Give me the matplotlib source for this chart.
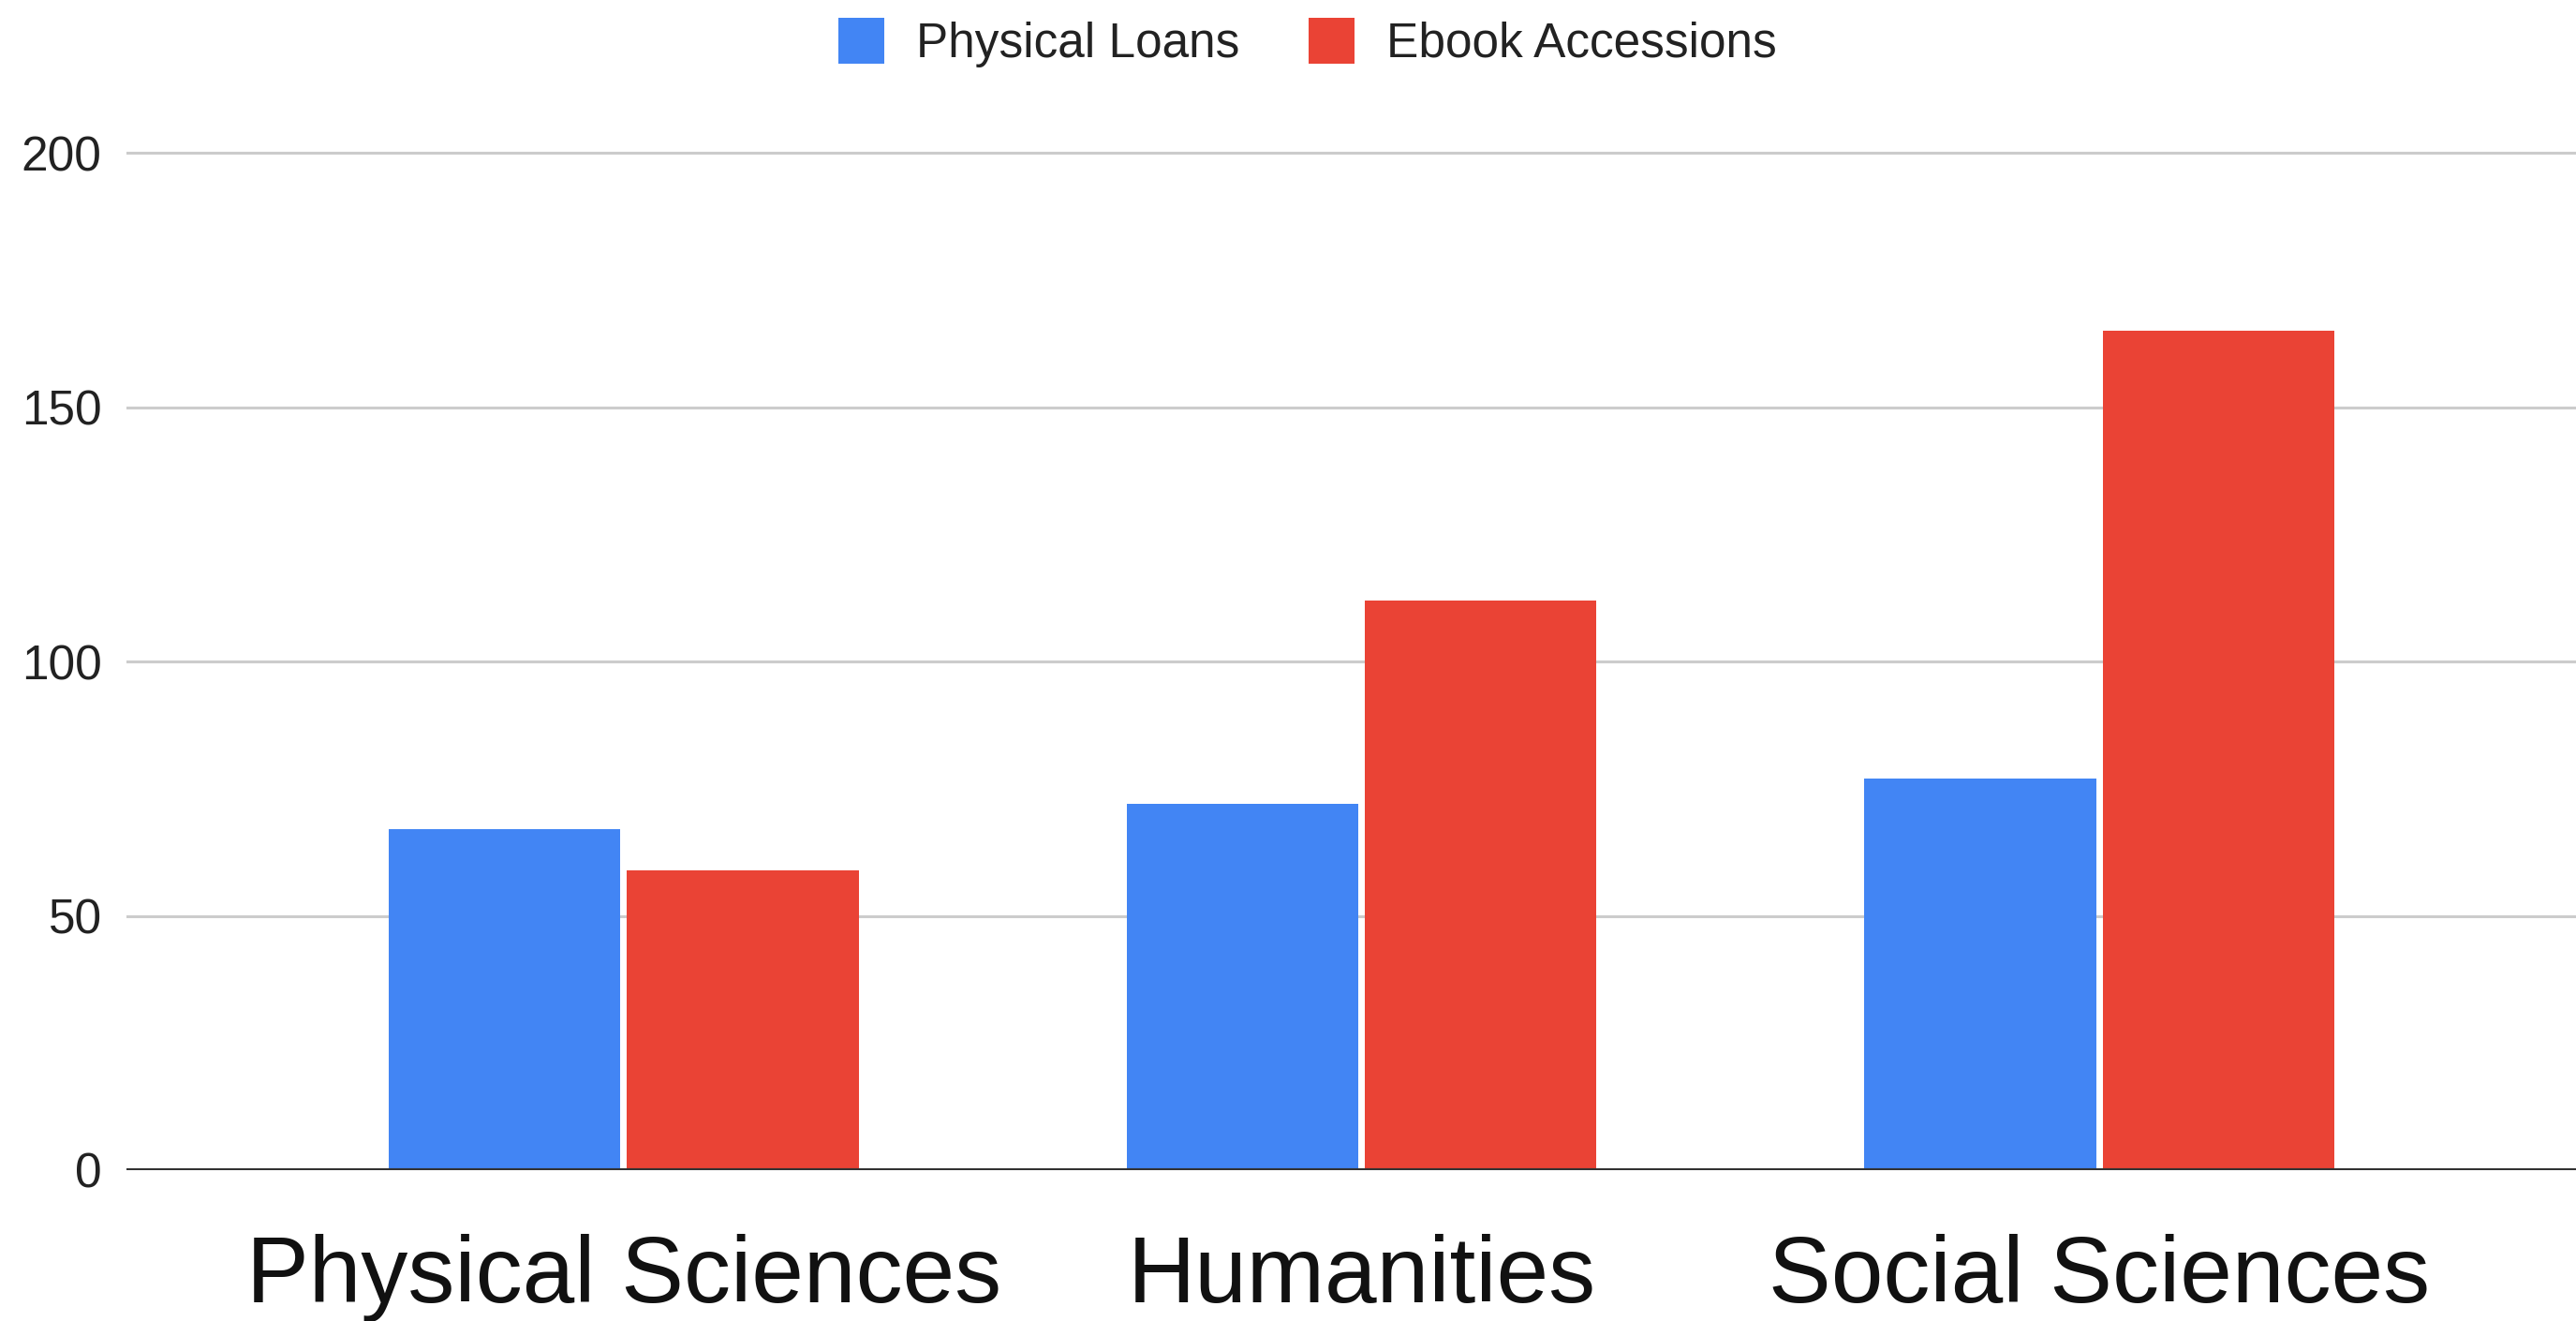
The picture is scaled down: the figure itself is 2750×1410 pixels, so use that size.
import matplotlib
matplotlib.use("Agg")
import matplotlib.pyplot as plt
from matplotlib.patches import Patch
import numpy as np

# Library usage by subject area
categories = ["Physical Sciences", "Humanities", "Social Sciences"]
physical_loans = [67, 72, 77]
ebook_accessions = [59, 112, 165]
series_names = ["Physical Loans", "Ebook Accessions"]
y_ticks = [0, 50, 100, 150, 200]

BLUE = "#4285F4"
RED = "#EA4335"

plt.rcParams["font.family"] = ["Liberation Sans", "DejaVu Sans"]

fig = plt.figure(figsize=(27.5, 14.1), dpi=100)
fig.patch.set_facecolor("white")

# axes placed so the value axis runs 0..205 with 0 near the bottom
ax = fig.add_axes([135 / 2750, 1 - 1249 / 1410, 1 - 135 / 2750, (1249 - 136) / 1410])

x = np.arange(len(categories))
bar_w = 0.314
offset = 0.1615
ax.bar(x - offset, physical_loans, width=bar_w, color=BLUE, zorder=3)
ax.bar(x + offset, ebook_accessions, width=bar_w, color=RED, zorder=3)

ax.set_xlim(-0.674, 2.646)
ax.set_ylim(0, 205)

# horizontal gridlines, with a dark baseline at zero
ax.set_yticks(y_ticks)
ax.yaxis.grid(True, color="#CCCCCC", linewidth=2.2, zorder=0)
ax.axhline(0, color="#333333", linewidth=3, zorder=4)

for side in ["top", "right", "left", "bottom"]:
    ax.spines[side].set_visible(False)

ax.tick_params(axis="y", length=0, pad=19, labelsize=37, labelcolor="#222222")
ax.set_xticks(x)
ax.set_xticklabels(categories, fontsize=72, color="#111111")
ax.tick_params(axis="x", length=0, pad=49)

# legend across the top
handles = [Patch(facecolor=BLUE, edgecolor="none"), Patch(facecolor=RED, edgecolor="none")]
fig.legend(handles, series_names, loc="center", bbox_to_anchor=(0.5076, 0.968),
           ncol=2, frameon=False, fontsize=37, handlelength=0.95, handleheight=1.1,
           handletextpad=0.65, columnspacing=1.45, labelcolor="#222222")

plt.savefig("out.png", dpi=100, facecolor="white")
